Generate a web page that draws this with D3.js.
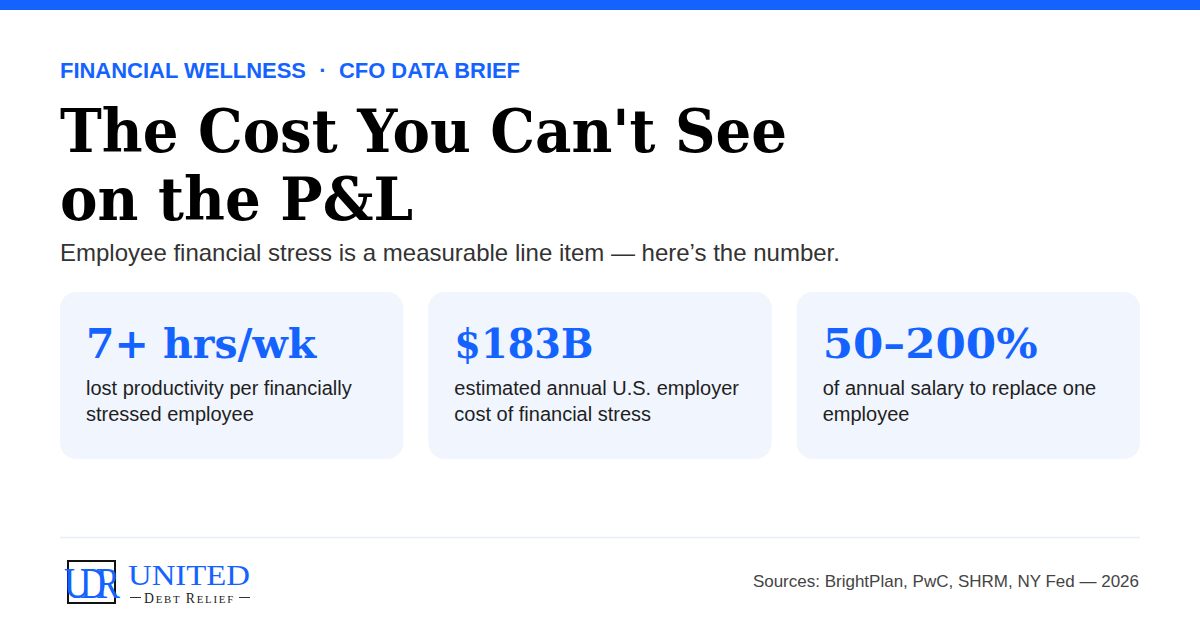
<!DOCTYPE html>
<html>
<head>
<meta charset="utf-8">
<script src="https://cdn.jsdelivr.net/npm/d3@7"></script>
<style>
  html, body { margin: 0; padding: 0; background: #fff; }
  svg { display: block; }
</style>
</head>
<body>
<svg id="card" width="1200" height="630"></svg>
<script>
// content
var kicker = ["FINANCIAL WELLNESS", "CFO DATA BRIEF"];
var titleLines = ["The Cost You Can't See", "on the P&L"];
var subtitle = "Employee financial stress is a measurable line item \u2014 here\u2019s the number.";
var statValues = ["7+ hrs/wk", "$183B", "50\u2013200%"];
var statLines = [
  ["lost productivity per financially", "stressed employee"],
  ["estimated annual U.S. employer", "cost of financial stress"],
  ["of annual salary to replace one", "employee"]
];
var sources = "Sources: BrightPlan, PwC, SHRM, NY Fed \u2014 2026";

var BLUE = "#1463ff";
var SERIF = "'DejaVu Serif', Georgia, serif";
var SANS = "'Liberation Sans', Arial, Helvetica, sans-serif";
var LOGO = "'Liberation Serif', 'Times New Roman', serif";

var W = 1200, H = 630, left = 60, right = 1140;
var svg = d3.select("#card");

svg.append("rect").attr("width", W).attr("height", H).attr("fill", "#fff");
svg.append("rect").attr("width", W).attr("height", 10).attr("fill", BLUE);

// squeeze or stretch a text to a given width
function fitWidth(sel, target) {
  sel.attr("textLength", target).attr("lengthAdjust", "spacingAndGlyphs");
}

// kicker
var k1 = svg.append("text")
  .attr("x", left).attr("y", 78)
  .attr("font-family", SANS).attr("font-weight", 700).attr("font-size", 22)
  .attr("fill", BLUE)
  .text(kicker[0]);
fitWidth(k1, 246);
svg.append("text")
  .attr("x", 323).attr("y", 78)
  .attr("text-anchor", "middle")
  .attr("font-family", SANS).attr("font-weight", 700).attr("font-size", 22)
  .attr("fill", BLUE)
  .text("\u00b7");
var k2 = svg.append("text")
  .attr("x", 339).attr("y", 78)
  .attr("font-family", SANS).attr("font-weight", 700).attr("font-size", 22)
  .attr("fill", BLUE)
  .text(kicker[1]);
fitWidth(k2, 181);

// headline
var titleWidths = [727, 353];
titleLines.forEach(function (t, i) {
  var tx = svg.append("text")
    .attr("x", left).attr("y", 152 + i * 68)
    .attr("font-family", SERIF).attr("font-weight", 700).attr("font-size", 60)
    .attr("fill", "#000")
    .text(t);
  fitWidth(tx, titleWidths[i]);
});

svg.append("text")
  .attr("x", left).attr("y", 261)
  .attr("font-family", SANS).attr("font-size", 24)
  .attr("fill", "#333")
  .text(subtitle);

// stat cards
var gap = 25;
var cardW = (right - left - gap * (statValues.length - 1)) / statValues.length;
var x = d3.scaleLinear().domain([0, 1]).range([left, left + cardW + gap]);
var numWidths = [230, 139, 215];

var cards = svg.selectAll("g.stat")
  .data(statValues)
  .join("g")
  .attr("class", "stat")
  .attr("transform", function (d, i) { return "translate(" + x(i) + ",292)"; });

cards.append("rect")
  .attr("width", cardW).attr("height", 167)
  .attr("rx", 16).attr("ry", 16)
  .attr("fill", "#f0f5fe");

cards.append("text")
  .attr("x", 26).attr("y", 66)
  .attr("font-family", SERIF).attr("font-weight", 700).attr("font-size", 41)
  .attr("fill", BLUE)
  .text(function (d) { return d; })
  .each(function (d, i) { fitWidth(d3.select(this), numWidths[i]); });

cards.each(function (d, i) {
  var g = d3.select(this);
  statLines[i].forEach(function (line, j) {
    g.append("text")
      .attr("x", 26).attr("y", 103 + j * 26)
      .attr("font-family", SANS).attr("font-size", 20)
      .attr("fill", "#1f1f1f")
      .text(line);
  });
});

// footer
svg.append("line")
  .attr("x1", left).attr("x2", right)
  .attr("y1", 537.5).attr("y2", 537.5)
  .attr("stroke", "#e6edf6").attr("stroke-width", 1.5);

svg.append("text")
  .attr("x", right - 1).attr("y", 587)
  .attr("text-anchor", "end")
  .attr("font-family", SANS).attr("font-size", 17)
  .attr("fill", "#444")
  .text(sources);

// logo
var logo = svg.append("g");
logo.append("rect")
  .attr("x", 68).attr("y", 561).attr("width", 47).attr("height", 42)
  .attr("fill", "#fff").attr("stroke", "#111").attr("stroke-width", 2);

logo.append("text")
  .attr("transform", "translate(64,598) scale(1,1.25)")
  .attr("font-family", LOGO)
  .attr("font-size", 36)
  .attr("letter-spacing", -10)
  .attr("fill", BLUE)
  .text("UDR");

var united = logo.append("text")
  .attr("x", 128).attr("y", 585)
  .attr("font-family", LOGO)
  .attr("font-size", 30)
  .attr("fill", BLUE)
  .text("UNITED");
fitWidth(united, 122);

logo.append("line").attr("x1", 130).attr("x2", 141).attr("y1", 597.5).attr("y2", 597.5)
  .attr("stroke", "#333").attr("stroke-width", 1);
logo.append("line").attr("x1", 239).attr("x2", 250).attr("y1", 597.5).attr("y2", 597.5)
  .attr("stroke", "#333").attr("stroke-width", 1);

var dr = logo.append("text")
  .attr("x", 144).attr("y", 603)
  .attr("font-family", LOGO)
  .attr("font-size", 14)
  .attr("letter-spacing", 1.8)
  .attr("fill", "#222");
dr.append("tspan").text("D");
dr.append("tspan").attr("font-size", 11).text("EBT ");
dr.append("tspan").text("R");
dr.append("tspan").attr("font-size", 11).text("ELIEF");
fitWidth(dr, 91);
</script>
</body>
</html>
